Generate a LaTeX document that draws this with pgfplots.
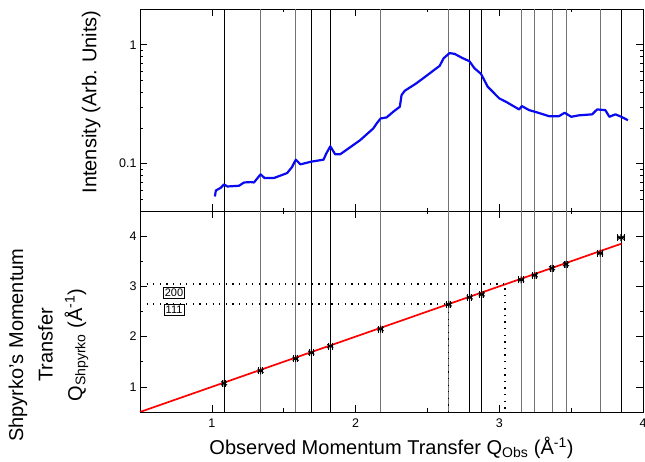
\documentclass[border=0pt]{standalone}
\usepackage{fontspec}
\setmainfont{Liberation Sans}
\usepackage{pgfplots}
\pgfplotsset{compat=1.18}
\definecolor{vgray}{RGB}{115,115,115}
\definecolor{cblue}{RGB}{10,10,240}
\pgfplotsset{
  common/.style={
    scale only axis, width=503pt,
    xmin=0.5, xmax=4.0,
    axis line style={line width=0.8pt},
    tick align=inside,
    major tick length=7pt, minor tick length=3.5pt,
    every tick/.style={black, line width=0.7pt},
    tick label style={font=\fontsize{12.5}{14}\selectfont},
    xtick={1,2,3,4}, minor xtick={1.5,2.5,3.5},
    clip=true,
  },
}
\newcommand{\blacklines}[2]{%
  \pgfplotsinvokeforeach{1.085,1.692,1.824,2.794,2.878,3.846}{%
    \addplot[black, line width=0.7pt, forget plot] coordinates {(##1,#1) (##1,#2)};}%
  \pgfplotsinvokeforeach{1.339,1.583,2.174,2.649,3.152,3.247,3.367,3.464,3.701}{%
    \addplot[vgray, line width=0.9pt, forget plot] coordinates {(##1,#1) (##1,#2)};}%
}
\begin{document}
\begin{tikzpicture}[x=1pt,y=1pt]
% ---------- top panel ----------
\begin{axis}[common,
  at={(0pt,201pt)}, anchor=south west, height=202pt,
  ymode=log, ymin=0.04, ymax=2.0,
  ytick={0.1,1}, yticklabels={0.1,1},
  minor ytick={0.05,0.06,0.07,0.08,0.09,0.2,0.3,0.4,0.5,0.6,0.7,0.8,0.9,2},
  xticklabels={},
  ylabel={Intensity (Arb. Units)},
  ylabel style={at={(axis description cs:-0.097,0.54)}, anchor=center, font=\fontsize{20}{22}\selectfont},
]
\blacklines{0.04}{2.0}
\addplot[cblue, line width=2.2pt, line join=round] coordinates {
(1.021,0.0530) (1.028,0.0595) (1.062,0.0627) (1.085,0.0669) (1.108,0.0643)
(1.189,0.0652) (1.224,0.0695) (1.270,0.0700) (1.293,0.0695) (1.339,0.0813)
(1.367,0.0757) (1.431,0.0757) (1.524,0.0834) (1.558,0.0937) (1.584,0.1081)
(1.616,0.0987) (1.692,0.1040) (1.777,0.1081) (1.796,0.1216) (1.824,0.1400)
(1.858,0.1200) (1.893,0.1200) (1.939,0.1313) (2.031,0.1574) (2.123,0.1977)
(2.147,0.2180) (2.174,0.2400) (2.216,0.2450) (2.262,0.2733) (2.308,0.3010)
(2.320,0.3780) (2.343,0.4110) (2.423,0.4740) (2.492,0.5470) (2.585,0.6650)
(2.613,0.7710) (2.654,0.8510) (2.689,0.8390) (2.746,0.7710) (2.792,0.7280)
(2.827,0.6350) (2.873,0.5690) (2.919,0.4450) (3.000,0.3540) (3.046,0.3320)
(3.138,0.2860) (3.157,0.3050) (3.208,0.2820) (3.254,0.2720) (3.346,0.2510)
(3.415,0.2510) (3.455,0.2680) (3.501,0.2480) (3.554,0.2550) (3.646,0.2600)
(3.681,0.2860) (3.738,0.2820) (3.766,0.2480) (3.808,0.2600) (3.849,0.2480)
(3.895,0.2320)
};
\end{axis}
% ---------- bottom panel ----------
\begin{axis}[common,
  at={(0pt,0pt)}, anchor=south west, height=201pt,
  ymin=0.5, ymax=4.5,
  ytick={1,2,3,4}, yticklabels={1,2,3,4},
  minor ytick={1.5,2.5,3.5},
  xticklabels={1,2,3,4},
  xticklabel style={yshift=-3pt},
  xlabel={Observed Momentum Transfer Q\textsubscript{Obs} (Å\textsuperscript{-1})},
  xlabel style={font=\fontsize{20}{22}\selectfont, yshift=-3pt},
  ylabel={Shpyrko's Momentum\\Transfer\\Q\textsubscript{Shpyrko} (Å\textsuperscript{-1})},
  ylabel style={at={(axis description cs:-0.182,0.333)}, anchor=center, align=center, font=\fontsize{20}{29.5}\selectfont},
]
\blacklines{0.5}{4.5}
\addplot[red, line width=1.7pt, forget plot] coordinates {(0.5,0.5) (3.85,3.85)};
% dotted guides
\addplot[black, line width=1.3pt, dash pattern=on 1.3pt off 5.3pt, forget plot] coordinates {(0.5,2.65) (2.649,2.65) (2.649,0.5)};
\addplot[black, line width=1.3pt, dash pattern=on 1.3pt off 5.3pt, forget plot] coordinates {(0.5,3.05) (3.04,3.05) (3.04,0.5)};
% data points with x error bars
\addplot[black, only marks, mark=asterisk, mark size=3.5pt, mark options={line width=1pt},
  error bars/.cd, x dir=both, x explicit, error bar style={line width=1pt}, error mark options={rotate=90, mark size=3.5pt, line width=1pt}]
  table[x=x, y=y, x error=ex] {
x y ex
1.085 1.07 0.012
1.339 1.32 0.012
1.583 1.56 0.012
1.692 1.68 0.012
1.824 1.81 0.012
2.174 2.15 0.012
2.649 2.64 0.015
2.794 2.78 0.015
2.878 2.84 0.015
3.152 3.13 0.015
3.247 3.22 0.015
3.367 3.36 0.012
3.464 3.44 0.012
3.701 3.66 0.020
3.846 3.97 0.024
};
\node[draw, line width=0.5pt, inner sep=1.5pt, font=\fontsize{11}{12}\selectfont] at (axis cs:0.737,2.87) {200};
\node[draw, line width=0.5pt, inner sep=1.5pt, font=\fontsize{11}{12}\selectfont] at (axis cs:0.737,2.53) {111};
\end{axis}
\pgfresetboundingbox
\path (-140pt,-50pt) rectangle (505pt,412pt);
\end{tikzpicture}
\end{document}
